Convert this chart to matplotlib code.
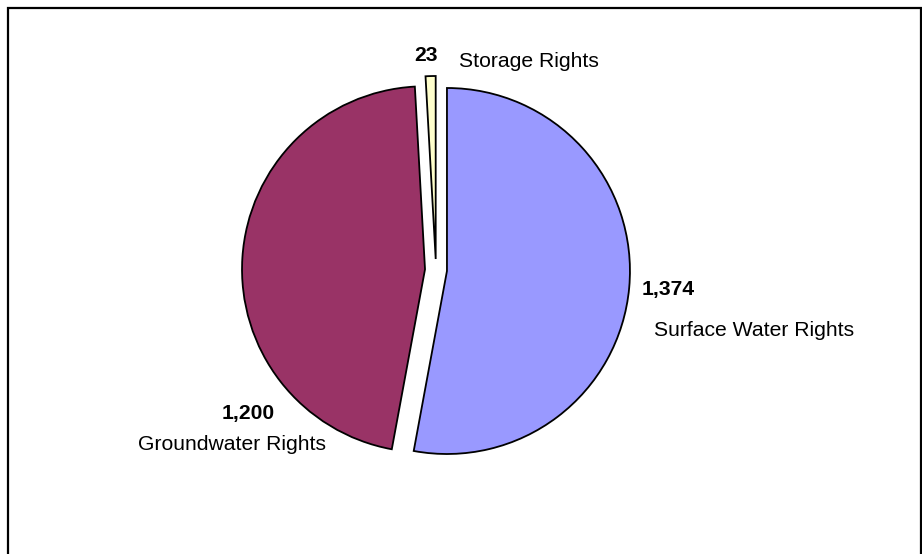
import matplotlib.pyplot as plt
from matplotlib.patches import Rectangle

plt.rcParams['font.family'] = ['Liberation Sans', 'DejaVu Sans']

# data
categories = ['Surface Water Rights', 'Groundwater Rights', 'Storage Rights']
values = [1374, 1200, 23]
colors = ['#9999FF', '#993366', '#FFFFCC']

W, H = 922, 554
fig = plt.figure(figsize=(W / 100, H / 100), dpi=100)
ax = fig.add_axes([0, 0, 1, 1])

# pie, clockwise from 12 o'clock, every slice pulled out a bit
# (explode is in data units here, i.e. pixels)
ax.pie(values, colors=colors, startangle=90, counterclock=False,
       center=(436, H - 270), radius=183, explode=[11, 11, 11],
       wedgeprops=dict(edgecolor='black', linewidth=1.3), frame=True)
ax.set_xlim(0, W)
ax.set_ylim(0, H)
ax.axis('off')

# value and name labels (x center, baseline y in pixels from top)
value_pos = [(668, 295), (248, 419), (426, 61)]
name_pos = [(754, 336), (232, 450), (529, 67)]
for v, name, vp, npos in zip(values, categories, value_pos, name_pos):
    ax.text(vp[0], H - vp[1], f'{v:,}', ha='center', va='baseline',
            fontsize=15.2, fontweight='bold', color='black')
    ax.text(npos[0], H - npos[1], name, ha='center', va='baseline',
            fontsize=15.2, color='black')

# chart border
ax.add_patch(Rectangle((8, -20), 913, H - 8 + 20, fill=False,
                       edgecolor='black', linewidth=1.6, clip_on=False))

fig.savefig('out.png', dpi=100)
